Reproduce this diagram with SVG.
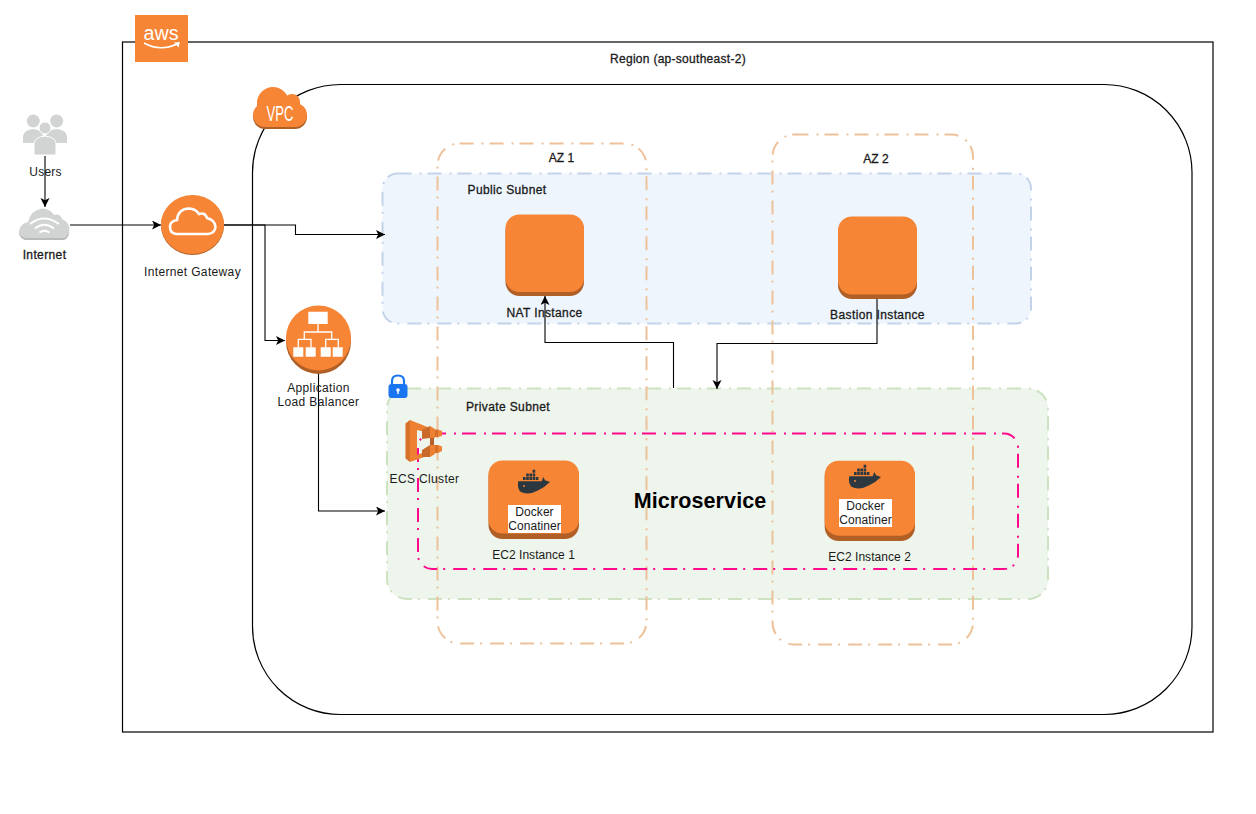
<svg xmlns="http://www.w3.org/2000/svg" width="1256" height="814" viewBox="0 0 1256 814">
<style>
text{font-family:"Liberation Sans",Arial,sans-serif;font-size:12px;fill:#1a1a1a;text-anchor:middle;letter-spacing:.35px}
.b{stroke:#1a1a1a;stroke-width:.3px;letter-spacing:.38px}
.t{letter-spacing:.05px}
.o{fill:#f68536}.d{fill:#b05f26}
.w{fill:#fff}.wl{fill:none;stroke:#fff}
.box{fill:none;stroke:#000;stroke-width:1.2}
.dash{stroke-width:2;stroke-dasharray:14 8 2 6}
.c{fill:none;stroke:#000;stroke-width:1.1}
.g{fill:#d2d3d3}
</style>
<defs>
<marker id="a" markerUnits="userSpaceOnUse" markerWidth="11" markerHeight="10" refX="9" refY="4.500" orient="auto"><path d="M0 0L9 4.500L0 9L2.200 4.500Z" fill="#000"/></marker>
<g id="whale"><path fill="#2b3840" d="M518.300 481.300H541.700L543.300 477L545 480.300L550 482Q545 487 538.300 490.300Q528 496 520 491.500Q517 487 518.300 481.300Z"/>
<path fill="#2b3840" d="M523 477h2.600v3h-2.600zM526.200 477h2.600v3h-2.600zM529.400 477h2.600v3h-2.600zM532.600 477h2.600v3h-2.600zM535.800 477h2.600v3h-2.600zM526.200 473.400h2.600v3h-2.600zM529.400 473.400h2.600v3h-2.600zM532.600 473.400h2.600v3h-2.600zM532.600 469.800h2.600v3h-2.600z"/><circle cx="524" cy="486" r="1" fill="#f68536"/></g>
</defs>
<rect width="1256" height="814" fill="#fff"/>
<g id="region"><rect class="box" x="122.500" y="42" width="1090.500" height="690"/><text class="b" x="678" y="63" style="letter-spacing:.28px">Region (ap-southeast-2)</text></g>
<g id="aws-logo"><rect class="o" x="135" y="15" width="53" height="47"/>
<text x="161" y="40" textLength="35" lengthAdjust="spacingAndGlyphs" style="font-size:20px;fill:#fff;letter-spacing:0">aws</text>
<path class="wl" stroke-width="1.600" d="M144 43Q160 52 177 44"/><path class="w" d="M174 42.500L180 42L178.500 47.500Z"/></g>
<g id="vpc"><rect class="box" x="252.500" y="84.500" width="939.500" height="630" rx="88" ry="88"/></g>
<g id="public-subnet"><rect x="382.500" y="173.500" width="648.500" height="150" rx="15" fill="#eef5fd" stroke="#c3d3ea" class="dash"/><text class="b" x="507" y="194">Public Subnet</text></g>
<g id="private-subnet"><rect x="387" y="388.500" width="661" height="210.500" rx="20" fill="#eef5ec" stroke="#cde2c0" class="dash"/><text class="b" x="508" y="411">Private Subnet</text></g>
<g id="az1"><rect x="437.500" y="143.500" width="209" height="500" rx="22" fill="none" stroke="#eec299" class="dash"/><text class="b" x="561.500" y="162" style="letter-spacing:.1px">AZ 1</text></g>
<g id="az2"><rect x="772.500" y="134.500" width="200.500" height="510" rx="22" fill="none" stroke="#eec299" class="dash"/><text class="b" x="876" y="163" style="letter-spacing:.1px">AZ 2</text></g>
<g id="microservice"><rect x="418" y="433.500" width="600" height="135.500" rx="14" fill="none" stroke="#ff0a8c" stroke-width="2.200" class="dash"/><text x="700" y="508" font-weight="bold" style="font-size:21.500px;fill:#000;letter-spacing:.1px">Microservice</text></g>
<g id="connectors">
<path class="c" marker-end="url(#a)" d="M45 156V207"/>
<path class="c" marker-end="url(#a)" d="M70 225H161"/>
<path class="c" marker-end="url(#a)" d="M224 225H295.500V234.500H385"/>
<path class="c" marker-end="url(#a)" d="M224 225H265V340.500H285"/>
<path class="c" marker-end="url(#a)" d="M318.500 374V511H385"/>
<path class="c" marker-end="url(#a)" d="M673.500 388V342.500H545V296"/>
<path class="c" marker-end="url(#a)" d="M877 298V343.500H717V389"/>
</g>
<g id="users"><g class="g"><circle cx="33.300" cy="121" r="6.500"/><circle cx="56.700" cy="121" r="6.500"/><path d="M23 143V136Q24 130 33 129Q42 130 43 136V143ZM46 143V136Q47 130 56.700 129Q66 130 67 136V143Z"/></g><circle cx="45" cy="128" r="6" fill="#d2d3d3" stroke="#fff" stroke-width="1"/><path d="M34 155V143Q35 137 45 136Q55 137 56 143V155Z" fill="#d2d3d3" stroke="#fff"/><text x="45.500" y="176" style="letter-spacing:.2px">Users</text></g>
<g id="internet"><path fill="#b9baba" d="M25 240Q19 238 19 232H69Q69 238 64 240Z"/><path class="g" d="M25 238Q19 236 19 231Q20 224 28 222Q31 210 42 208.500Q50 208.500 54 215Q60 213 62 219Q69 222 69.500 229Q69 236 64 238Z"/><path class="wl" stroke-width="1.800" d="M30 224Q44 213 59 224M35 228.500Q44 221 54 228.500M39.500 232.500Q44 229 49.500 232.500"/><text class="b" x="44.500" y="259">Internet</text></g>
<g id="internet-gateway"><ellipse class="d" cx="192.500" cy="225.500" rx="31.500" ry="29.500"/><ellipse class="o" cx="192.500" cy="224.500" rx="31.500" ry="29.500"/><path class="wl" stroke-width="2.600" d="M176 234Q170 233 170 227Q170 221 177 220Q178 209 189 208.500Q196 209 199 214Q205 212 207 218Q215 220 215.500 227Q215 233 208 234Z"/><text x="192.500" y="276">Internet Gateway</text></g>
<g id="alb"><circle class="d" cx="318.500" cy="341.500" r="32.500"/><circle class="o" cx="318.500" cy="338" r="32.500"/>
<path class="w" d="M308.300 311.700h19.400v12.300h-19.400zM293.300 347.300h10v9.400h-10zM305.700 347.300h10v9.400h-10zM320.700 347.300h10v9.400h-10zM332.700 347.300h10v9.400h-10z"/>
<path class="wl" stroke-width="1.300" d="M318 324V332M298.300 347.300V339.300H311V347.300M304.300 339.300V332H331.700V339.300M325.700 347.300V339.300H338.300V347.300"/>
<text x="318.500" y="392">Application</text><text x="318.500" y="406">Load Balancer</text></g>
<g id="vpc-badge"><g class="d" transform="translate(0 2)"><circle cx="265" cy="115" r="12"/><circle cx="273" cy="103" r="16"/><circle cx="292" cy="102" r="8"/><circle cx="295" cy="115" r="12"/><rect x="265" y="103" width="30" height="24"/></g><g class="o"><circle cx="265" cy="115" r="12"/><circle cx="273" cy="103" r="16"/><circle cx="292" cy="102" r="8"/><circle cx="295" cy="115" r="12"/><rect x="265" y="103" width="30" height="24"/></g><text x="280" y="121" textLength="27" lengthAdjust="spacingAndGlyphs" style="font-size:22px;fill:#fff;letter-spacing:0">VPC</text></g>
<g id="lock"><path fill="none" stroke="#1976f0" stroke-width="2.200" d="M392 386V381Q392 375.500 398 375.500Q404 375.500 404 381V386"/><rect x="388.500" y="384" width="19" height="14" rx="3" fill="#1976f0"/><circle cx="398" cy="390" r="1.800" fill="#fff"/><rect x="397.300" y="390" width="1.400" height="4" fill="#fff"/></g>
<g id="ecs-cluster"><path fill="#d6702a" d="M405.500 423.500L410 420V462L405.500 458.500Z"/><path fill="#ed8033" d="M410 420L430 428V433L417 430V455L430 450V455L410 462Z"/>
<path fill="#b8602a" d="M430 438h4v7h-4z"/>
<path fill="#c96a2a" d="M422 430L430 426V438L422 439ZM422 450L430 445V457L422 457Z"/><path fill="#ed8033" d="M430 426L435 429V438H430ZM430 445H435V454L430 457Z"/>
<path fill="#d6702a" d="M435 429.500H438V437H435ZM435 445H438V453H435Z"/><path fill="#ed8033" d="M438 429.500L442 431V436L438 437ZM438 445L442 446.500V451L438 453Z"/><text x="424.500" y="483">ECS Cluster</text></g>
<g id="nat-instance"><rect class="d" x="505.500" y="217" width="78.500" height="79" rx="14"/><rect class="o" x="505.500" y="214.500" width="78.500" height="77.500" rx="14"/><text class="b" x="544.500" y="317">NAT Instance</text></g>
<g id="bastion-instance"><rect class="d" x="838" y="219" width="79" height="80" rx="14"/><rect class="o" x="838" y="216.500" width="79" height="78" rx="14"/><text class="b" x="877.500" y="319">Bastion Instance</text></g>
<g id="ec2-1"><rect class="d" x="488.500" y="463" width="90.500" height="76" rx="14"/><rect class="o" x="488.500" y="460.500" width="90.500" height="73" rx="14"/>
<use href="#whale"/>
<rect class="w" x="508" y="505" width="53" height="28"/><text class="t" x="534.500" y="516">Docker</text><text class="t" x="534.500" y="530">Conatiner</text><text class="t" x="533.500" y="559">EC2 Instance 1</text></g>
<g id="ec2-2"><rect class="d" x="824.700" y="463" width="90.300" height="78" rx="14"/><rect class="o" x="824.700" y="460.700" width="90.300" height="75" rx="14"/>
<use href="#whale" x="331" y="-5"/>
<rect class="w" x="839" y="499" width="53" height="28"/><text class="t" x="865.500" y="510">Docker</text><text class="t" x="865.500" y="524">Conatiner</text><text class="t" x="869.500" y="561">EC2 Instance 2</text></g>
</svg>
